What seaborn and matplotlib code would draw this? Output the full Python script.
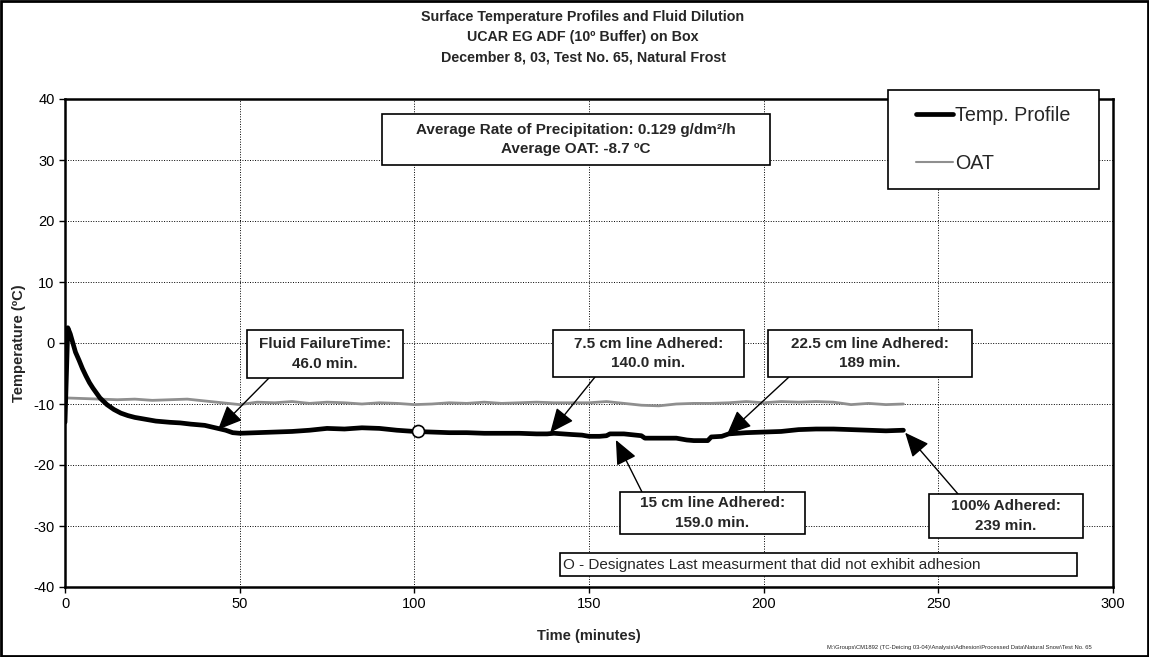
import matplotlib
matplotlib.use("Agg")
import matplotlib.pyplot as plt
from matplotlib.patches import Rectangle
from matplotlib.lines import Line2D
from matplotlib.legend_handler import HandlerLine2D
import seaborn as sns
import pandas as pd

# ---------------- data ----------------
temp_time = [0, 0.8, 1.5, 2, 3, 4, 5, 6, 7, 8, 10, 12, 14, 16, 18, 20, 23, 26, 30,
             33, 36, 40, 43, 46, 48, 50, 55, 60, 65, 70, 75, 80, 85, 90, 95, 100,
             105, 110, 115, 120, 125, 130, 135, 138, 140, 145, 148, 150, 153, 155,
             156, 160, 165, 166, 170, 175, 178, 180, 184, 185, 188, 190, 195, 200,
             205, 210, 215, 220, 225, 230, 235, 240]
temp_vals = [-13.0, 2.5, 1.5, 0.5, -1.5, -2.8, -4.2, -5.4, -6.5, -7.4, -9.0, -10.1,
             -10.9, -11.5, -11.9, -12.2, -12.5, -12.8, -13.0, -13.1, -13.3, -13.5,
             -13.9, -14.3, -14.7, -14.8, -14.7, -14.6, -14.5, -14.3, -14.0, -14.1,
             -13.9, -14.0, -14.3, -14.5, -14.6, -14.7, -14.7, -14.8, -14.8, -14.8,
             -14.9, -14.9, -14.8, -15.0, -15.1, -15.3, -15.3, -15.2, -14.9, -14.9,
             -15.2, -15.6, -15.6, -15.6, -15.9, -16.0, -16.0, -15.4, -15.3, -14.9,
             -14.7, -14.6, -14.5, -14.2, -14.1, -14.1, -14.2, -14.3, -14.4, -14.3]

oat_time = [0, 5, 10, 15, 20, 25, 30, 35, 40, 45, 50, 55, 60, 65, 70, 75, 80, 85,
            90, 95, 100, 105, 110, 115, 120, 125, 130, 135, 140, 145, 150, 155,
            160, 165, 170, 175, 180, 185, 190, 195, 200, 205, 210, 215, 220, 225,
            230, 235, 240]
oat_vals = [-9.0, -9.1, -9.2, -9.3, -9.2, -9.4, -9.3, -9.2, -9.5, -9.8, -10.1, -9.7,
            -9.8, -9.6, -9.9, -9.7, -9.8, -10.0, -9.8, -9.9, -10.1, -10.0, -9.8,
            -9.9, -9.7, -9.9, -9.8, -9.7, -9.8, -9.8, -9.8, -9.6, -9.9, -10.2,
            -10.3, -10.0, -9.9, -9.9, -9.8, -9.6, -9.8, -9.6, -9.7, -9.6, -9.7,
            -10.1, -9.9, -10.1, -10.0]

marker_time = [101]
marker_temp = [-14.5]

series_names = ["Temp. Profile", "OAT"]

event_labels = ["Fluid FailureTime:\n46.0 min.",
                "7.5 cm line Adhered:\n140.0 min.",
                "22.5 cm line Adhered:\n189 min.",
                "15 cm line Adhered:\n159.0 min.",
                "100% Adhered:\n239 min."]
event_time = [43.8, 138.9, 189.5, 157.7, 240.5]
event_temp = [-14.2, -14.7, -15.0, -15.9, -14.7]

x_ticks = [0, 50, 100, 150, 200, 250, 300]
y_ticks = [-40, -30, -20, -10, 0, 10, 20, 30, 40]

title_lines = ["Surface Temperature Profiles and Fluid Dilution",
               "UCAR EG ADF (10º Buffer) on Box",
               "December 8, 03, Test No. 65, Natural Frost"]
info_text = "Average Rate of Precipitation: 0.129 g/dm²/h\nAverage OAT: -8.7 ºC"
note_text = "O - Designates Last measurment that did not exhibit adhesion"
path_text = ("M:\\Groups\\CM1892 (TC-Deicing 03-04)\\Analysis\\Adhesion\\"
             "Processed Data\\Natural Snow\\Test No. 65")

# ---------------- figure ----------------
sns.set_style("white")
plt.rcParams["font.family"] = ["Liberation Sans", "DejaVu Sans"]
plt.rcParams["axes.unicode_minus"] = False

W, H = 1149, 657
fig = plt.figure(figsize=(W / 100, H / 100), dpi=100)


def fx(x):
    return x / W


def fy(y):
    return 1 - y / H


ax = fig.add_axes([fx(65), fy(587), fx(1113) - fx(65), fy(99) - fy(587)])

temp_df = pd.DataFrame({"time": temp_time, "temp": temp_vals})
oat_df = pd.DataFrame({"time": oat_time, "temp": oat_vals})

sns.lineplot(data=oat_df, x="time", y="temp", color="#8f8f8f", linewidth=2.0,
             estimator=None, ax=ax, zorder=3)
sns.lineplot(data=temp_df, x="time", y="temp", color="black", linewidth=3.4,
             estimator=None, ax=ax, zorder=4)
sns.scatterplot(x=marker_time, y=marker_temp, s=75, color="white",
                edgecolor="black", linewidth=1.2, ax=ax, zorder=6)

ax.set_xlim(0, 300)
ax.set_ylim(-40, 40)
ax.set_xticks(x_ticks)
ax.set_yticks(y_ticks)
ax.tick_params(axis="both", labelsize=10.5, length=4, width=1, direction="out",
               colors="black", left=True, bottom=True)
ax.grid(True, color="black", linestyle=(0, (1, 1.6)), linewidth=0.7)
for s in ax.spines.values():
    s.set_linewidth(1.8)
    s.set_color("black")
ax.set_xlabel("")
ax.set_ylabel("")

fig.text(fx(589), fy(636), "Time (minutes)", ha="center", va="center",
         fontsize=10.5, fontweight="bold")
fig.text(fx(19), fy(343), "Temperature (ºC)", ha="center", va="center",
         rotation=90, fontsize=10.5, fontweight="bold")

for line, ypix in zip(title_lines, [17, 37.5, 58]):
    fig.text(fx(583), fy(ypix), line, ha="center", va="center",
             fontsize=10.3, fontweight="bold")

# legend
fs_leg = 14.2
pad = 0.62
handles = [Line2D([], [], color="black", linewidth=3.4),
           Line2D([], [], color="#8f8f8f", linewidth=1.5)]
leg = ax.legend(handles, series_names, loc="upper left",
                bbox_to_anchor=(fx(888), fy(194), fx(1099) - fx(888), fy(90) - fy(194)),
                bbox_transform=fig.transFigure, mode="expand", borderaxespad=0,
                fontsize=fs_leg, labelspacing=1.5, borderpad=0.8, numpoints=2,
                handlelength=1.88 + 2 * pad, handletextpad=-pad + 0.1,
                handler_map={Line2D: HandlerLine2D(marker_pad=pad)},
                fancybox=False, framealpha=1, edgecolor="black")
leg.get_frame().set_linewidth(1.2)
leg.set_zorder(10)


def box(x0, y0, x1, y1, text, size, weight="bold", ha="center"):
    fig.patches.append(Rectangle((fx(x0), fy(y1)), fx(x1) - fx(x0), fy(y0) - fy(y1),
                                 transform=fig.transFigure, facecolor="white",
                                 edgecolor="black", linewidth=1.2, zorder=5))
    if ha == "center":
        tx = fx((x0 + x1) / 2)
    else:
        tx = fx(x0 + 3)
    fig.text(tx, fy((y0 + y1) / 2), text, ha=ha, va="center", fontsize=size,
             fontweight=weight, linespacing=1.5, zorder=6)


# info box
box(382, 114, 770, 165, info_text, 11)

# event boxes and arrows
boxes = [(247, 330, 403, 378), (553, 330, 744, 377), (768, 330, 972, 377),
         (620, 492, 805, 534), (929, 494, 1083, 538)]
starts = [(269, 378), (595, 377), (789, 377), (642, 492), (958, 494)]
for lab, bx, st, t, v in zip(event_labels, boxes, starts, event_time, event_temp):
    box(*bx, lab, 11)
    ax.annotate("", xy=(t, v), xycoords="data", xytext=(fx(st[0]), fy(st[1])),
                textcoords="figure fraction", annotation_clip=False,
                arrowprops=dict(arrowstyle="-|>,head_length=0.75,head_width=0.33",
                                color="black", lw=1.0, shrinkA=0, shrinkB=0,
                                mutation_scale=20), zorder=7)

# note box
box(560, 553, 1077, 576, note_text, 11, weight="normal", ha="left")

fig.text(fx(1092), fy(647), path_text, ha="right", va="center", fontsize=4.2)

# outer border
fig.patches.append(Rectangle((0.001, 0.001), 0.998, 0.997, transform=fig.transFigure,
                             fill=False, edgecolor="black", linewidth=2, zorder=20))

fig.savefig("out.png", dpi=100)
